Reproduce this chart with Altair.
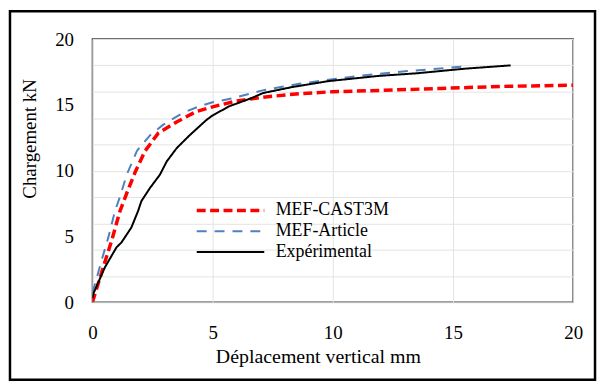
import altair as alt
import pandas as pd

# ---- data ----
series_names = ["MEF-CAST3M", "MEF-Article", "Expérimental"]

cast_x = [0, 0.45, 0.8, 1.14, 1.43, 1.78, 2.19, 2.74, 3.5, 4.33, 5.0, 6.0, 7.2, 8.6, 10.0, 12.0, 14.5, 17.0, 20.0]
cast_y = [0, 2.66, 4.68, 6.9, 8.3, 9.9, 11.5, 12.85, 13.7, 14.5, 14.85, 15.3, 15.6, 15.85, 16.0, 16.1, 16.25, 16.4, 16.5]

art_x = [0, 0.11, 0.38, 0.66, 0.94, 1.16, 1.43, 1.85, 2.4, 2.95, 3.77, 4.46, 5.0, 5.83, 7.08, 8.6, 10.0, 11.35, 13.0, 15.4]
art_y = [0.7, 1.4, 3.17, 4.93, 6.94, 8.1, 9.7, 11.5, 12.7, 13.5, 14.4, 14.9, 15.2, 15.5, 16.1, 16.6, 16.95, 17.25, 17.55, 17.9]

exp_x = [0, 0.04, 0.52, 1.0, 1.21, 1.62, 1.9, 2.04, 2.4, 2.81, 3.09, 3.5, 4.05, 4.74, 5.0, 5.7, 6.6, 7.1, 8.3, 9.8, 11.9, 13.5, 15.5, 17.4]
exp_y = [0.3, 0.66, 2.66, 4.17, 4.55, 5.68, 6.94, 7.7, 8.7, 9.7, 10.7, 11.7, 12.7, 13.85, 14.2, 14.9, 15.5, 15.9, 16.35, 16.8, 17.2, 17.4, 17.75, 18.0]

x_ticks = [0, 5, 10, 15, 20]
y_ticks = [0, 2, 4, 5, 6, 8, 10, 12, 14, 15, 16, 18, 20]

colors = ["#FF0000", "#4F81BD", "#000000"]
dashes = [[9, 4.5], [10, 8], [1, 0]]
widths = [3.5, 2, 2]

rows = []
for name, xs, ys in zip(series_names, [cast_x, art_x, exp_x], [cast_y, art_y, exp_y]):
    rows += [{"series": name, "x": a, "y": b} for a, b in zip(xs, ys)]
df = pd.DataFrame(rows)

FONT = "Liberation Serif"

frame = alt.Chart(pd.DataFrame({"f": [0]})).mark_rect(
    fill=None, stroke="black", strokeWidth=2.5
).encode(
    x=alt.value(-83), x2=alt.value(506), y=alt.value(-28), y2=alt.value(343)
)

lines = alt.Chart(df).mark_line(clip=True).encode(
    x=alt.X("x:Q", title="Déplacement vertical mm",
            scale=alt.Scale(domain=[0, 20], nice=False),
            axis=alt.Axis(values=x_ticks, grid=True, ticks=False, domain=False,
                          labelFont=FONT, titleFont=FONT, labelFontSize=19,
                          labelFlush=False, labelPadding=21,
                          titleX=227, titleY=61, titleBaseline="alphabetic",
                          titleFontSize=20)),
    y=alt.Y("y:Q", title="Chargement kN",
            scale=alt.Scale(domain=[0, 20], nice=False),
            axis=alt.Axis(values=y_ticks, grid=True, ticks=False, domain=False,
                          labelFont=FONT, titleFont=FONT, labelFontSize=19,
                          labelFlush=False, labelPadding=19,
                          titleX=-53, titleY=100, titleFontSize=19,
                          labelExpr="datum.value % 5 == 0 ? datum.label : ''",
                          gridOpacity={"condition": {"test": "datum.value % 2 == 0", "value": 1}, "value": 0})),
    color=alt.Color("series:N", scale=alt.Scale(domain=series_names, range=colors),
                    legend=alt.Legend(title=None)),
    strokeDash=alt.StrokeDash("series:N", scale=alt.Scale(domain=series_names, range=dashes),
                              legend=alt.Legend(title=None)),
    strokeWidth=alt.StrokeWidth("series:N", scale=alt.Scale(type="ordinal", domain=series_names, range=widths),
                                legend=alt.Legend(title=None)),
    order=alt.Order("o:Q"),
)

chart = alt.layer(frame, lines).properties(
    width=484, height=265, padding=0
).configure_view(
    stroke="#404040", strokeWidth=1.5
).configure_axis(
    labelFont=FONT, titleFont=FONT, labelFontSize=19, titleFontSize=19,
    labelColor="black", titleColor="black", titleFontWeight="normal",
    gridColor="#e3e3e3", gridWidth=1
).configure_legend(
    orient="none", legendX=128.5, legendY=162, padding=0,
    symbolType="M-4,0H4", symbolSize=289, labelOffset=35,
    labelFont=FONT, labelFontSize=18, labelColor="black", rowPadding=2
)

chart.save("out.html", embed_options={"renderer": "svg", "actions": False})
